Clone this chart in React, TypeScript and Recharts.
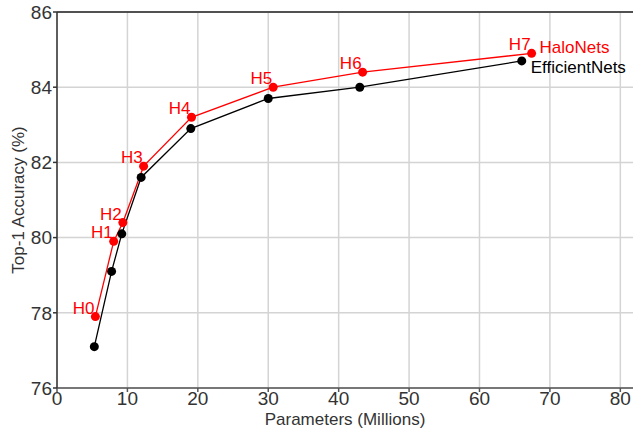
import React from 'react';
import { LineChart, Line, XAxis, YAxis, CartesianGrid, ReferenceLine, LabelList } from 'recharts';

const haloParams = [5.45, 8.05, 9.35, 12.3, 19.1, 30.7, 43.4, 67.4];
const haloAcc = [77.9, 79.9, 80.4, 81.9, 83.2, 84.0, 84.4, 84.9];
const haloNames = ['H0', 'H1', 'H2', 'H3', 'H4', 'H5', 'H6', 'H7'];
const effParams = [5.3, 7.75, 9.2, 11.95, 19.0, 30.0, 43.0, 66.0];
const effAcc = [77.1, 79.1, 80.1, 81.6, 82.9, 83.7, 84.0, 84.7];
const xTicks = [0, 10, 20, 30, 40, 50, 60, 70, 80];
const yTicks = [76, 78, 80, 82, 84, 86];

const haloData = haloParams.map((p, i) => ({ p, acc: haloAcc[i], name: haloNames[i] }));
const effData = effParams.map((p, i) => ({ p, acc: effAcc[i] }));

const FONT = '"Liberation Sans", Arial, sans-serif';

const HaloLabel = (props: any) => {
  const { x, y, index, value } = props;
  return (
    <g>
      <text x={x - 1} y={y - 3} textAnchor="end" fill="#ff0000" fontSize={17} fontFamily={FONT}>
        {value}
      </text>
      {index === haloData.length - 1 && (
        <text x={x + 8} y={y} textAnchor="start" fill="#ff0000" fontSize={17} fontFamily={FONT}>
          HaloNets
        </text>
      )}
    </g>
  );
};

const EffLabel = (props: any) => {
  const { x, y, index } = props;
  if (index !== effData.length - 1) return null;
  return (
    <text x={x + 9} y={y + 12} textAnchor="start" fill="#000" fontSize={17} fontFamily={FONT}>
      EfficientNets
    </text>
  );
};

export default function App() {
  return (
    <div style={{ position: 'absolute', left: 0, top: 0, background: '#fff' }}>
      <LineChart width={633} height={429} margin={{ top: 12, right: 0, bottom: 0, left: 0 }}>
        <CartesianGrid stroke="#d4d4d4" strokeWidth={1.5} horizontalValues={yTicks} verticalValues={xTicks} />
        <XAxis
          type="number"
          dataKey="p"
          domain={[0, 81.8]}
          ticks={xTicks}
          allowDuplicatedCategory={false}
          height={41}
          tickSize={4}
          tickMargin={0}
          stroke="#555"
          strokeWidth={1.5}
          tick={{ fill: '#333', fontSize: 19, fontFamily: FONT }}
          label={{ value: 'Parameters (Millions)', position: 'insideBottom', offset: 4, fill: '#333', fontSize: 17, fontFamily: FONT }}
        />
        <YAxis
          type="number"
          dataKey="acc"
          domain={[76, 86]}
          ticks={yTicks}
          width={57}
          tickSize={4}
          tickMargin={1}
          stroke="#333"
          strokeWidth={1.5}
          tick={{ fill: '#333', fontSize: 19, fontFamily: FONT }}
          label={{ value: 'Top-1 Accuracy (%)', angle: -90, position: 'insideLeft', offset: 18, fill: '#333', fontSize: 17, fontFamily: FONT, style: { textAnchor: 'middle' } }}
        />
        <ReferenceLine y={86} stroke="#222" strokeWidth={1.5} />
        <Line
          data={effData}
          dataKey="acc"
          stroke="#000"
          strokeWidth={1.3}
          dot={{ r: 4.5, fill: '#000', stroke: '#000', strokeWidth: 0 }}
          isAnimationActive={false}
        >
          <LabelList dataKey="acc" content={EffLabel} />
        </Line>
        <Line
          data={haloData}
          dataKey="acc"
          stroke="#ff0000"
          strokeWidth={1.3}
          dot={{ r: 4.5, fill: '#ff0000', stroke: '#ff0000', strokeWidth: 0 }}
          isAnimationActive={false}
        >
          <LabelList dataKey="name" content={HaloLabel} />
        </Line>
      </LineChart>
    </div>
  );
}
